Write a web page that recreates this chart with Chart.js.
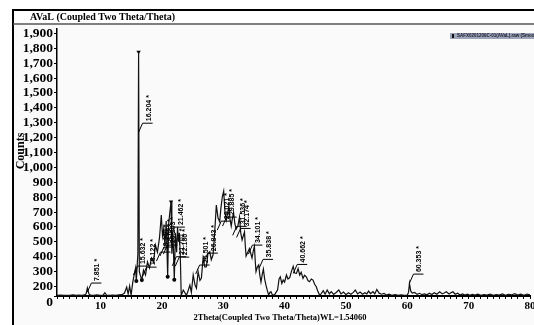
<!DOCTYPE html>
<html>
<head>
<meta charset="utf-8">
<script src="https://cdn.jsdelivr.net/npm/chart.js@4.4.1/dist/chart.umd.min.js"></script>
<style>
html, body { margin: 0; padding: 0; background: #fff; }
#box { width: 534px; height: 325px; }
</style>
</head>
<body>
<div id="box"><canvas id="xrd" width="534" height="325"></canvas></div>
<script>

// =======================================================
// Données lues sur le diffractogramme
// =======================================================

const twoTheta = [
    2.9, 3.5, 4.0, 4.5, 5.0, 5.5, 6.0, 6.5, 7.0, 7.4, 7.65, 7.85, 8.1, 8.4, 8.9, 9.4, 9.9, 10.4, 10.7, 11.0,
    11.5, 12.0, 12.5, 13.0, 13.5, 13.9, 14.26, 14.5, 14.74, 14.98, 15.23, 15.47, 15.71, 15.83, 16.08, 16.2, 16.32, 16.44, 16.73, 17.0,
    17.33, 17.65, 17.98, 18.3, 18.62, 18.95, 19.27, 19.6, 19.75, 19.9, 20.1, 20.3, 20.5, 20.7, 20.94, 21.1, 21.3, 21.49, 21.62, 21.8,
    22.02, 22.2, 22.4, 22.55, 22.7, 22.85, 23.0, 23.15, 23.48, 24.0, 24.3, 24.56, 24.8, 25.1, 25.4, 25.63, 25.9, 26.2, 26.44, 26.71,
    27.0, 27.25, 27.5, 27.8, 28.05, 28.33, 28.6, 28.87, 29.15, 29.42, 29.6, 29.84, 30.07, 30.28, 30.49, 30.7, 30.92, 31.1, 31.3, 31.5,
    31.68, 31.9, 32.1, 32.4, 32.65, 32.85, 33.07, 33.27, 33.46, 33.6, 33.72, 34.0, 34.27, 34.5, 34.69, 34.9, 35.08, 35.2, 35.34, 35.55,
    35.78, 35.95, 36.15, 36.35, 36.54, 36.75, 36.96, 37.2, 37.4, 37.6, 37.77, 38.0, 38.32, 38.6, 38.85, 39.1, 39.3, 39.55, 39.77, 40.0,
    40.3, 40.55, 40.84, 41.1, 41.4, 41.65, 41.93, 42.2, 42.46, 42.7, 43.0, 43.25, 43.54, 43.8, 44.07, 44.35, 44.63, 44.9, 45.16, 45.4,
    45.7, 45.95, 46.3, 46.6, 46.94, 47.3, 47.6, 48.0, 48.4, 48.83, 49.2, 49.6, 50.0, 50.4, 50.8, 51.2, 51.52, 51.9, 52.3, 52.7,
    53.1, 53.4, 53.69, 54.0, 54.4, 54.7, 55.03, 55.4, 55.8, 56.2, 56.6, 57.0, 57.5, 58.0, 58.5, 59.0, 59.5, 60.0, 60.2, 60.35,
    60.55, 60.8, 61.2, 61.6, 62.0, 62.4, 62.8, 63.2, 63.6, 64.0, 64.4, 64.8, 65.28, 65.7, 66.0, 66.36, 66.8, 67.1, 67.44, 67.8,
    68.2, 68.6, 69.0, 69.4, 69.8, 70.2, 70.6, 71.0, 71.5, 72.0, 72.5, 73.0, 73.5, 74.0, 74.5, 75.0, 75.5, 76.0, 76.5, 77.0,
    77.5, 78.0, 78.5, 79.0, 79.5, 80.0
];

const counts = [
    141, 142, 140, 141, 140, 143, 140, 142, 140, 143, 152, 190, 150, 141, 140, 143, 141, 140, 158, 141,
    140, 142, 140, 143, 145, 156, 196, 149, 203, 142, 223, 277, 324, 236, 420, 1776, 300, 282, 243, 310,
    277, 364, 324, 391, 364, 478, 431, 525, 600, 680, 540, 590, 470, 640, 265, 620, 700, 769, 420, 560,
    245, 560, 430, 600, 500, 560, 400, 140, 176, 140, 175, 209, 160, 277, 210, 189, 299, 240, 256, 391,
    330, 332, 420, 433, 380, 411, 560, 747, 660, 635, 720, 801, 841, 700, 646, 690, 741, 650, 606, 660,
    696, 620, 586, 610, 666, 560, 512, 540, 566, 470, 404, 430, 455, 420, 391, 440, 470, 380, 300, 330,
    344, 280, 230, 280, 317, 250, 209, 170, 142, 160, 165, 145, 140, 160, 176, 250, 265, 220, 243, 230,
    277, 250, 260, 300, 335, 290, 288, 320, 277, 295, 254, 275, 265, 240, 232, 250, 243, 215, 198, 170,
    142, 150, 172, 148, 176, 150, 165, 146, 160, 176, 150, 162, 145, 158, 148, 160, 176, 150, 162, 148,
    158, 150, 169, 152, 165, 150, 180, 155, 148, 153, 143, 148, 141, 146, 141, 144, 140, 142, 160, 221,
    170, 155, 160, 147, 154, 145, 150, 144, 155, 146, 158, 148, 164, 150, 156, 164, 150, 158, 164, 148,
    155, 143, 150, 142, 148, 141, 147, 142, 148, 141, 146, 142, 149, 141, 146, 142, 150, 141, 147, 143,
    151, 142, 148, 141, 149, 143
];

// pics indexés : position, hauteur du repère, texte
const peakPos   = [7.85, 15.35, 16.2, 16.85, 19.11, 19.68, 20.24, 21.46, 21.70, 22.18, 25.50, 26.84, 29.02, 29.885, 31.536, 32.174, 34.101, 35.838, 41.4, 60.353];
const peakLevel = [223, 337, 1297, 330, 431, 465, 478, 599, 400, 397, 344, 424, 639, 666, 604, 590, 478, 382, 348, 283];
const peakText  = ["7.851 *", "15.632 *", "16.204 *", "18.122 *", "19.110 *", "19.683 *", "20.243 *", "21.462 *", "21.701 *", "22.186 *",
                   "25.501 *", "26.843 *", "29.021 *", "29.885 *", "31.536 *", "32.174 *", "34.101 *", "35.838 *", "40.662 *", "60.353 *"];

// points noirs et sommets marqués
const dotPos    = [15.83, 16.73, 20.94, 22.02];
const dotCounts = [236, 243, 265, 245];
const topPos    = [16.2, 21.49];
const topCounts = [1776, 769];

const yMin = 136;
const yMax = 1930;
const yTicks = [136, 200, 300, 400, 500, 600, 700, 800, 900, 1000, 1100, 1200, 1300, 1400, 1500, 1600, 1700, 1800, 1900];
const xLabels = [10, 20, 30, 40, 50, 60, 70, 80];

const chartTitle = "AVaL (Coupled Two Theta/Theta)";
const xTitle = "2Theta(Coupled Two Theta/Theta)WL=1.54060";
const yTitle = "Counts";
const seriesName = "SAFX0201209C-01(AVaL).raw (Smooth)";

const serif = "'Liberation Serif', 'Times New Roman', serif";


// =======================================================
// Cadre, titres, légende
// =======================================================

const framePlugin = {

    id: "frame",

    beforeDraw(chart){

        const c = chart.ctx, w = chart.width, h = chart.height;

        c.save();
        c.fillStyle = "#fff";
        c.fillRect(0, 0, w, h);
        c.fillStyle = "#fafafa";
        c.fillRect(14, 25, w - 14, h - 25);

        c.strokeStyle = "#000";
        c.lineWidth = 2;
        c.beginPath();
        c.moveTo(13, h);
        c.lineTo(13, 10);
        c.lineTo(w, 10);
        c.stroke();

        c.strokeStyle = "#555";
        c.lineWidth = 1.5;
        c.beginPath();
        c.moveTo(13, 24);
        c.lineTo(w, 24);
        c.stroke();

        c.fillStyle = "#000";
        c.font = "bold 10px " + serif;
        c.textBaseline = "middle";
        c.fillText(chartTitle, 30, 17);
        c.restore();
    },

    afterDraw(chart){

        const c = chart.ctx, a = chart.chartArea;

        c.save();
        c.fillStyle = "#000";

        // titre axe Y
        c.font = "bold 12px " + serif;
        c.textAlign = "center";
        c.textBaseline = "middle";
        c.translate(21, 151);
        c.rotate(-Math.PI / 2);
        c.fillText(yTitle, 0, 0);
        c.setTransform(1, 0, 0, 1, 0, 0);

        // titre axe X
        c.font = "bold 8.5px " + serif;
        c.fillText(xTitle, 280, 318);

        // petite légende
        const lx = a.right - 80, ly = a.top + 4;
        c.fillStyle = "#9da5b8";
        c.fillRect(lx, ly, 90, 6);
        c.fillStyle = "#111";
        c.fillRect(lx + 2, ly + 1, 2, 4);
        c.font = "bold 4.5px 'Liberation Sans', Arial, sans-serif";
        c.textAlign = "left";
        c.fillStyle = "#1a1a2a";
        c.fillText(seriesName, lx + 7, ly + 3.2);

        c.restore();
    }
};


// =======================================================
// Repères des pics
// =======================================================

const peakPlugin = {

    id: "peaks",

    afterDatasetsDraw(chart){

        const c = chart.ctx;
        const xs = chart.scales.x, ys = chart.scales.y;

        c.save();
        c.strokeStyle = "#000";
        c.fillStyle = "#000";
        c.lineWidth = 1;
        c.font = "bold 7px 'Liberation Sans', Arial, sans-serif";
        c.textBaseline = "middle";
        c.textAlign = "left";

        peakPos.forEach((p, i)=>{

            const px = xs.getPixelForValue(p);
            const py = ys.getPixelForValue(peakLevel[i]);

            c.beginPath();
            c.moveTo(px, py + 9);
            c.lineTo(px + 4, py);
            c.lineTo(px + 14, py);
            c.stroke();

            c.save();
            c.translate(px + 10, py - 2);
            c.rotate(-Math.PI / 2);
            c.fillText(peakText[i], 0, 0);
            c.restore();
        });

        c.restore();
    }
};


// =======================================================
// Graphique
// =======================================================

new Chart(document.getElementById("xrd"),{

    type:"line",

    data:{

        datasets:[{

            label: seriesName,
            data: twoTheta.map((t, i)=>({x: t, y: counts[i]})),
            borderColor: "#111",
            borderWidth: 1.2,
            pointRadius: 0,
            tension: 0

        },{

            type: "scatter",
            data: dotPos.map((t, i)=>({x: t, y: dotCounts[i]})),
            pointRadius: 2,
            pointBackgroundColor: "#000",
            pointBorderWidth: 0

        },{

            type: "scatter",
            data: topPos.map((t, i)=>({x: t, y: topCounts[i]})),
            pointStyle: "triangle",
            rotation: 180,
            pointRadius: 2.5,
            pointBackgroundColor: "#000",
            pointBorderWidth: 0

        }]

    },

    options:{

        responsive: false,
        animation: false,
        events: [],

        layout:{
            padding: {top: 29, left: 0, right: 0, bottom: 0}
        },

        plugins:{
            legend: {display: false},
            tooltip: {enabled: false}
        },

        scales:{

            x:{
                type: "linear",
                min: 2.9,
                max: 80,
                afterBuildTicks: (s)=>{
                    const t = [];
                    for (let v = 3; v <= 80; v++) t.push({value: v});
                    s.ticks = t;
                },
                afterFit: (s)=>{
                    s.height = 29;
                    s.paddingLeft = 0;
                    s.paddingRight = 0;
                },
                ticks:{
                    autoSkip: false,
                    maxRotation: 0,
                    padding: 1,
                    color: "#000",
                    font: {family: serif, size: 11, weight: "bold"},
                    callback: (v)=> xLabels.includes(v) ? String(v) : ""
                },
                grid:{
                    drawOnChartArea: false,
                    color: "#000",
                    tickLength: 3
                },
                border: {display: true, color: "#000", width: 2}
            },

            y:{
                min: yMin,
                max: yMax,
                afterBuildTicks: (s)=>{
                    s.ticks = yTicks.map(v=>({value: v}));
                },
                afterFit: (s)=>{
                    s.width = 57;
                    s.paddingTop = 0;
                    s.paddingBottom = 0;
                },
                ticks:{
                    autoSkip: false,
                    padding: 1,
                    color: "#000",
                    font: {family: serif, size: 13.5, weight: "bold", lineHeight: 0.9},
                    // le "0" de l'original est imprimé sous la ligne d'axe
                    callback: (v)=> v === yMin ? ["", "0"] : v.toLocaleString("en-US")
                },
                grid:{
                    drawOnChartArea: false,
                    color: "#000",
                    tickLength: 3
                },
                border: {display: true, color: "#000", width: 1.5}
            }
        }
    },

    plugins: [framePlugin, peakPlugin]

});

</script>
</body>
</html>
